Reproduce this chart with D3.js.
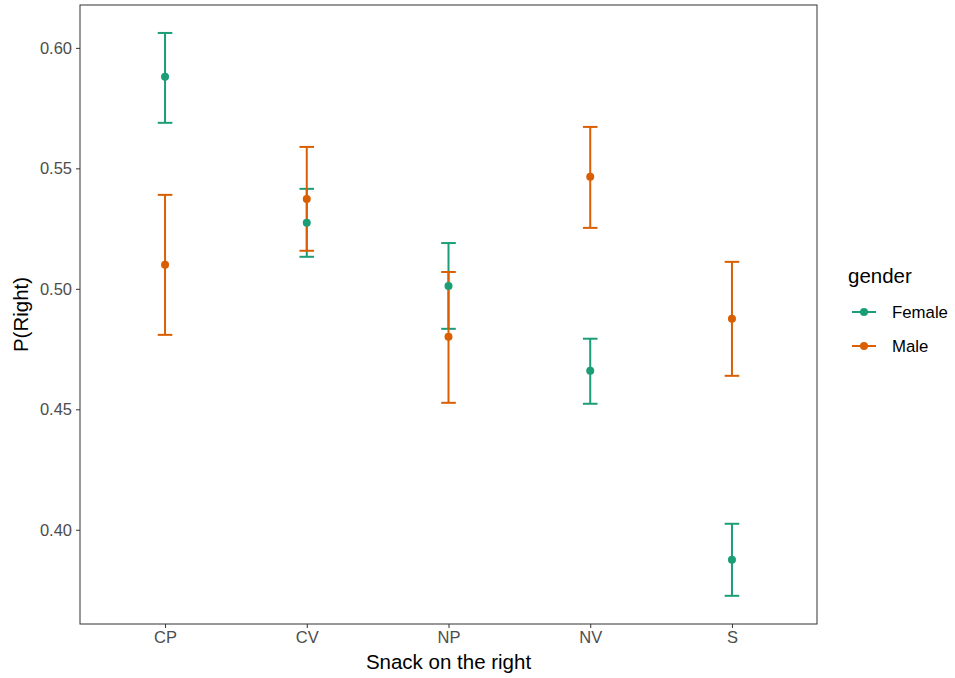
<!DOCTYPE html>
<html>
<head>
<meta charset="utf-8">
<script src="https://cdn.jsdelivr.net/npm/d3@7"></script>
<style>
  body { margin: 0; background: #fff; }
  svg { display: block; font-family: "Liberation Sans", Arial, sans-serif; }
</style>
</head>
<body>
<script>
var width = 955,
    height = 678;

// snack categories on the x axis
const snacks = ["CP", "CV", "NP", "NV", "S"];
const genders = ["Female", "Male"];
const colors = ["#1B9E77", "#D95F02"];

// point estimate, lower and upper bound per snack
const female_mean = [0.588, 0.5274, 0.5012, 0.466, 0.3876];
const female_low  = [0.5689, 0.5133, 0.4834, 0.4523, 0.3726];
const female_high = [0.6062, 0.5415, 0.519, 0.4793, 0.4025];

const male_mean = [0.510, 0.5373, 0.4801, 0.5465, 0.4876];
const male_low  = [0.4809, 0.5158, 0.4527, 0.5253, 0.4639];
const male_high = [0.539, 0.5589, 0.507, 0.5672, 0.5112];

const y_ticks = [0.40, 0.45, 0.50, 0.55, 0.60];

const rows = [];
snacks.forEach(function (s, i) {
    rows.push({ snack: s, gender: "Female", mean: female_mean[i], low: female_low[i], high: female_high[i] });
    rows.push({ snack: s, gender: "Male", mean: male_mean[i], low: male_low[i], high: male_high[i] });
});

const margin = { left: 80, right: 138, top: 5, bottom: 54 };

const svg = d3.select("body").append("svg")
    .attr("width", width)
    .attr("height", height);

const x = d3.scalePoint()
    .domain(snacks)
    .range([margin.left, width - margin.right])
    .padding(0.6);

const y = d3.scaleLinear()
    .domain([0.3609, 0.6178])
    .range([height - margin.bottom, margin.top]);

const color = d3.scaleOrdinal().domain(genders).range(colors);

// Panel border
svg.append("rect")
    .attr("x", margin.left)
    .attr("y", margin.top)
    .attr("width", width - margin.right - margin.left)
    .attr("height", height - margin.bottom - margin.top)
    .attr("fill", "none")
    .attr("stroke", "#333333")
    .attr("stroke-width", 1);

// Y axis
const yAxis = svg.append("g")
    .attr("transform", "translate(" + margin.left + ",0)")
    .call(d3.axisLeft(y).tickValues(y_ticks).tickFormat(d3.format(".2f")).tickSize(4).tickPadding(4));
yAxis.select(".domain").remove();
yAxis.selectAll("line").attr("stroke", "#333333");
yAxis.selectAll("text").attr("fill", "#4D4D4D").style("font-size", "16.5px");

// X axis
const xAxis = svg.append("g")
    .attr("transform", "translate(0," + (height - margin.bottom) + ")")
    .call(d3.axisBottom(x).tickSize(4).tickPadding(3));
xAxis.select(".domain").remove();
xAxis.selectAll("line").attr("stroke", "#333333");
xAxis.selectAll("text").attr("fill", "#4D4D4D").style("font-size", "16.5px");

// Axis titles
svg.append("text")
    .attr("x", (margin.left + width - margin.right) / 2)
    .attr("y", 669)
    .attr("text-anchor", "middle")
    .style("font-size", "20.5px")
    .text("Snack on the right");

svg.append("text")
    .attr("transform", "translate(28," + ((margin.top + height - margin.bottom) / 2) + ") rotate(-90)")
    .attr("text-anchor", "middle")
    .style("font-size", "20.5px")
    .text("P(Right)");

// Error bars
const cap = 7.3;
const bars = svg.append("g").selectAll("g")
    .data(rows)
    .enter()
    .append("g")
    .attr("stroke", function (d) { return color(d.gender); })
    .attr("stroke-width", 2);

bars.append("line")
    .attr("x1", function (d) { return x(d.snack); })
    .attr("x2", function (d) { return x(d.snack); })
    .attr("y1", function (d) { return y(d.low); })
    .attr("y2", function (d) { return y(d.high); });
bars.append("line")
    .attr("x1", function (d) { return x(d.snack) - cap; })
    .attr("x2", function (d) { return x(d.snack) + cap; })
    .attr("y1", function (d) { return y(d.low); })
    .attr("y2", function (d) { return y(d.low); });
bars.append("line")
    .attr("x1", function (d) { return x(d.snack) - cap; })
    .attr("x2", function (d) { return x(d.snack) + cap; })
    .attr("y1", function (d) { return y(d.high); })
    .attr("y2", function (d) { return y(d.high); });

// Points
svg.append("g").selectAll("circle")
    .data(rows)
    .enter()
    .append("circle")
    .attr("cx", function (d) { return x(d.snack); })
    .attr("cy", function (d) { return y(d.mean); })
    .attr("r", 4)
    .attr("fill", function (d) { return color(d.gender); });

// Legend
const legend = svg.append("g").attr("transform", "translate(848,0)");
legend.append("text")
    .attr("x", 0)
    .attr("y", 283)
    .style("font-size", "20.5px")
    .text("gender");

const items = legend.selectAll("g.item")
    .data(genders)
    .enter()
    .append("g")
    .attr("class", "item")
    .attr("transform", function (d, i) { return "translate(0," + (312 + i * 34) + ")"; });
items.append("line")
    .attr("x1", 4).attr("x2", 28)
    .attr("stroke", function (d) { return color(d); })
    .attr("stroke-width", 2);
items.append("circle")
    .attr("cx", 16).attr("r", 4)
    .attr("fill", function (d) { return color(d); });
items.append("text")
    .attr("x", 44)
    .attr("dy", "0.35em")
    .style("font-size", "16.8px")
    .text(function (d) { return d; });
</script>
</body>
</html>
